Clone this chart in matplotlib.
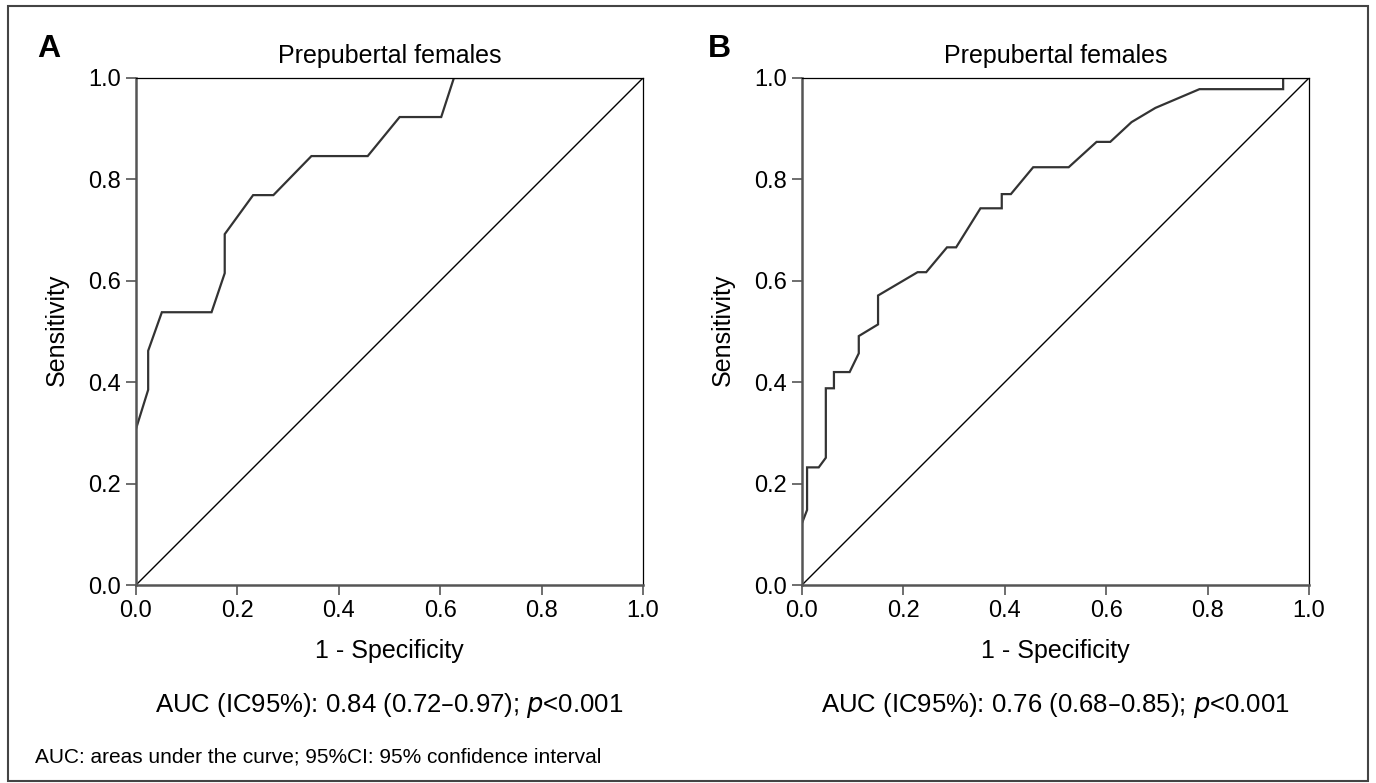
import matplotlib.pyplot as plt
from matplotlib.patches import Rectangle

plt.rcParams['font.family'] = ['Liberation Sans', 'DejaVu Sans']

# ROC curve A (1 - specificity, sensitivity)
fpr_a = [0.0, 0.024, 0.024, 0.051, 0.149, 0.175, 0.175, 0.231, 0.271, 0.346, 0.457, 0.520, 0.602, 0.627, 1.0]
tpr_a = [0.308, 0.385, 0.462, 0.538, 0.538, 0.615, 0.692, 0.769, 0.769, 0.846, 0.846, 0.923, 0.923, 1.0, 1.0]

# ROC curve B
fpr_b = [0.0, 0.010, 0.010, 0.033, 0.047, 0.047, 0.063, 0.063, 0.094, 0.112, 0.112, 0.150, 0.150,
         0.228, 0.245, 0.286, 0.304, 0.352, 0.394, 0.394, 0.412, 0.456, 0.526, 0.581, 0.608,
         0.650, 0.697, 0.784, 0.949, 0.949, 1.0]
tpr_b = [0.122, 0.148, 0.232, 0.232, 0.251, 0.388, 0.388, 0.420, 0.420, 0.457, 0.491, 0.514, 0.571,
         0.617, 0.617, 0.666, 0.666, 0.743, 0.743, 0.771, 0.771, 0.824, 0.824, 0.874, 0.874,
         0.913, 0.941, 0.978, 0.978, 1.0, 1.0]

ticks = [0.0, 0.2, 0.4, 0.6, 0.8, 1.0]
titles = ['Prepubertal females', 'Prepubertal females']
letters = ['A', 'B']
auc_text = ['AUC (IC95%): 0.84 (0.72\u20130.97); $\\it{p}$<0.001',
            'AUC (IC95%): 0.76 (0.68\u20130.85); $\\it{p}$<0.001']
footnote = 'AUC: areas under the curve; 95%CI: 95% confidence interval'

W, H = 1376, 783
fig = plt.figure(figsize=(W / 100, H / 100), dpi=100)

# outer frame
fig.patches.append(Rectangle((8 / W, 1 - 781 / H), (1368 - 8) / W, (781 - 6) / H,
                             transform=fig.transFigure, fill=False, edgecolor='#444444', lw=1.5))

lefts = [136, 802]
letter_x = [37, 708]
curves = [(fpr_a, tpr_a), (fpr_b, tpr_b)]
ax_w, ax_top, ax_bot = 507, 78, 585

for i in range(2):
    l = lefts[i]
    ax = fig.add_axes([l / W, 1 - ax_bot / H, ax_w / W, (ax_bot - ax_top) / H])
    x, y = curves[i]
    ax.plot([0, 1], [0, 1], color='black', lw=1.0)
    ax.plot(x, y, color='#333333', lw=1.6, solid_joinstyle='miter')
    ax.set_xlim(0, 1)
    ax.set_ylim(0, 1)
    ax.set_xticks(ticks)
    ax.set_yticks(ticks)
    ax.set_xticklabels([f'{t:.1f}' for t in ticks])
    ax.set_yticklabels([f'{t:.1f}' for t in ticks])
    ax.tick_params(labelsize=17, length=7, width=1.2, color='#555555', pad=4)
    for s in ['left', 'bottom']:
        ax.spines[s].set_color('#555555')
        ax.spines[s].set_linewidth(1.8)
    for s in ['top', 'right']:
        ax.spines[s].set_color('black')
        ax.spines[s].set_linewidth(0.9)
    cx = (l + ax_w / 2) / W
    fig.text(cx, 1 - 56 / H, titles[i], ha='center', va='center', fontsize=18)
    fig.text(cx, 1 - 651 / H, '1 - Specificity', ha='center', va='center', fontsize=18)
    fig.text(cx, 1 - 706 / H, auc_text[i], ha='center', va='center', fontsize=18.5)
    fig.text((l - 79) / W, 1 - 330 / H, 'Sensitivity', rotation=90,
             ha='center', va='center', fontsize=18)
    fig.text(letter_x[i] / W, 1 - 49 / H, letters[i], ha='left', va='center',
             fontsize=23, fontweight='bold')

fig.text(35 / W, 1 - 757 / H, footnote, ha='left', va='center', fontsize=15)

plt.savefig('out.png', dpi=100)
plt.close()
